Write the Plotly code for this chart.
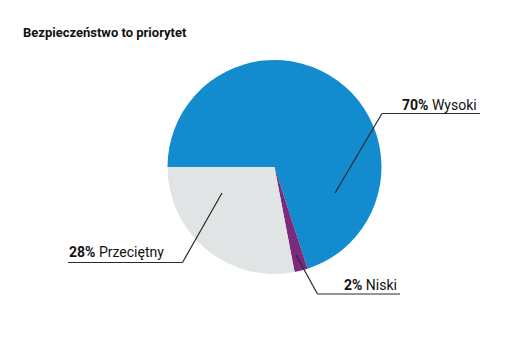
import plotly.graph_objects as go

categories = ["Wysoki", "Niski", "Przeciętny"]
values = [70, 2, 28]
colors = ["#128bcf", "#7b2a7e", "#e1e4e4"]
title_text = "Bezpieczeństwo to priorytet"

W, H = 525, 362
OFF = 8  # page body margin
FONT = "Roboto, Arial, sans-serif"

def px(x):
    return (x - OFF) / W

def py(y):
    return 1 - (y - OFF) / H

fig = go.Figure(go.Pie(
    labels=categories,
    values=values,
    marker=dict(colors=colors, line=dict(width=0)),
    sort=False,
    direction="clockwise",
    rotation=270,
    textinfo="none",
    hoverinfo="label+percent",
    domain=dict(x=[px(167), px(382)], y=[py(274), py(60)]),
    showlegend=False,
))

leaders = [
    [(335, 193), (382, 113.5), (480, 113.5)],
    [(296, 255), (317.5, 294), (400, 294)],
    [(222, 193), (182.5, 262.5), (68, 262.5)],
]
shapes = []
for pts in leaders:
    for (x0, y0), (x1, y1) in zip(pts[:-1], pts[1:]):
        shapes.append(dict(type="line", xref="paper", yref="paper",
                           x0=px(x0), y0=py(y0), x1=px(x1), y1=py(y1),
                           line=dict(color="#2a2a2a", width=1.2)))

label_pos = {
    "Wysoki": (400, 115),
    "Niski": (342, 295),
    "Przeciętny": (67, 262),
}
annotations = []
for cat, v in zip(categories, values):
    x, y = label_pos[cat]
    annotations.append(dict(
        xref="paper", yref="paper", x=px(x), y=py(y), xanchor="left", yanchor="bottom",
        text=f"<b>{v}%</b> {cat}", showarrow=False,
        font=dict(family=FONT, size=14, color="#111111"),
    ))

annotations.append(dict(
    xref="paper", yref="paper", x=px(21), y=py(42), xanchor="left", yanchor="bottom",
    text=f"<b>{title_text}</b>", showarrow=False,
    font=dict(family=FONT, size=13, color="#111111"),
))

fig.update_layout(
    width=W, height=H,
    margin=dict(l=0, r=0, t=0, b=0),
    paper_bgcolor="white", plot_bgcolor="white",
    shapes=shapes, annotations=annotations,
)

fig.write_html("out.html")
